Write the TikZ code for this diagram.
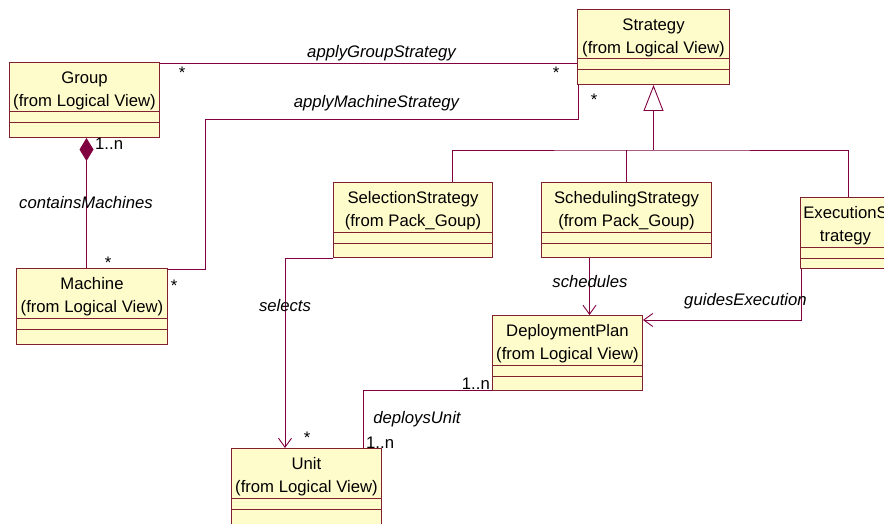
\documentclass[tikz,border=0pt]{standalone}
\usepackage{fontspec}
\setmainfont{Liberation Sans}
\usetikzlibrary{arrows.meta,calc}

\definecolor{umlfill}{RGB}{255,252,204}
\definecolor{umlborder}{RGB}{128,32,48}
\definecolor{umlline}{RGB}{128,0,64}

\begin{document}
\begin{tikzpicture}[
  x=1pt, y=-1pt,
  every node/.style={font=\fontsize{16.7}{23}\selectfont},
  klass/.style={draw=umlborder, fill=umlfill, line width=1pt, anchor=north west,
                inner sep=0pt},
  klasstitle/.style={align=center, inner sep=0pt, anchor=north},
  klassrule/.style={draw=umlborder, line width=1pt},
  assoc/.style={draw=umlline, line width=0.9pt},
  role/.style={font=\fontsize{16.7}{20}\selectfont\itshape, inner sep=0pt},
  mult/.style={inner sep=0pt},
  star/.style={inner sep=0pt, anchor=base},
  open tip/.style={-{Straight Barb[length=9pt, width=13pt]}},
]
\useasboundingbox (0,0) rectangle (884,524);
\clip (0,0) rectangle (884,524);

% --- classes: name / left / top / width / height / title ---
\foreach \n/\x/\y/\w/\h/\lbl in {
  grp/9/62/150/75/{Group\\(from Logical View)},
  strat/577/9/152/75/{Strategy\\(from Logical View)},
  mach/16/268/151/76/{Machine\\(from Logical View)},
  sel/333/182/159/75/{SelectionStrategy\\(from Pack\_Goup)},
  sched/541/182/170/75/{SchedulingStrategy\\(from Pack\_Goup)},
  exec/800/197/90/71/{ExecutionS\\trategy},
  plan/492/315/150/75/{DeploymentPlan\\(from Logical View)},
  unit/231/448/150/80/{Unit\\(from Logical View)}} {
  \node[klass, minimum width=\w pt, minimum height=\h pt] (\n) at (\x,\y) {};
  \node[klasstitle] (\n-title) at ([yshift=-4.9pt]\n.north) {\strut\lbl};
  \draw[klassrule] ([yshift=-50pt]\n.north west) -- ([yshift=-50pt]\n.north east);
  \draw[klassrule] ([yshift=-61pt]\n.north west) -- ([yshift=-61pt]\n.north east);
}

% --- generalization ---
\coordinate (bar) at ($(strat.south)+(0,65)$);
\draw[assoc, -{Triangle[open, length=26pt, width=20pt]}] (bar) -- (strat.south);
\draw[assoc] ([xshift=119pt]sel.north west) |- (bar) -| ([xshift=3pt]exec.north);
\draw[assoc] (sched.north) -- (sched.north |- bar);

% --- associations ---
\coordinate (gA) at ([yshift=-1pt]grp.north east);
\draw[assoc] (gA) -- (gA -| strat.west);

\coordinate (mA) at ([yshift=-1pt]mach.north east);
\coordinate (mB) at (205,119);
\draw[assoc] (mA) -| (mB) -| ([xshift=1pt]strat.south west);

\coordinate (cA) at ([xshift=2pt]grp.south);
\draw[assoc, {Diamond[length=23pt, width=14pt]}-] (cA) -- (cA |- mach.north);

\draw[assoc, open tip] (sel.south west) -| ([xshift=54pt]unit.north west);

\coordinate (sA) at ([xshift=-37pt]sched.south);
\draw[assoc, open tip] (sA) -- (sA |- plan.north);

\coordinate (eA) at ([xshift=1pt]exec.south west);
\coordinate (pA) at ([yshift=-5pt]plan.north east);
\draw[assoc, open tip] (eA) |- (pA);

\coordinate (uA) at ([xshift=-19pt]unit.north east);
\coordinate (pB) at ([yshift=1pt]plan.south west);
\draw[assoc] (uA) |- (pB);

% --- role names ---
\node[role] (lblGroup) at (381.5,53.5) {applyGroupStrategy};
\node[role] (lblMach) at (376.5,103.5) {applyMachineStrategy};
\node[role] (lblCont) at (86,203) {containsMachines};
\node[role] (lblSel) at (285,305.5) {selects};
\node[role] (lblSched) at (590,281.5) {schedules};
\node[role] (lblGuide) at (745.5,301.5) {guidesExecution};
\node[role] (lblDeploy) at (417,419) {deploysUnit};

% --- multiplicities ---
\node[mult, anchor=west] (mGrp) at (95,143.5) {1..n};
\node[mult, anchor=east] (mPlan) at (490,383.5) {1..n};
\node[mult, anchor=west] (mUnit) at (366,442.5) {1..n};
\foreach \x/\y [count=\i] in {182/79, 556/79, 594/106, 108/268, 174/291, 307/443.5}
  \node[star] (star\i) at (\x,\y) {*};

\end{tikzpicture}
\end{document}
